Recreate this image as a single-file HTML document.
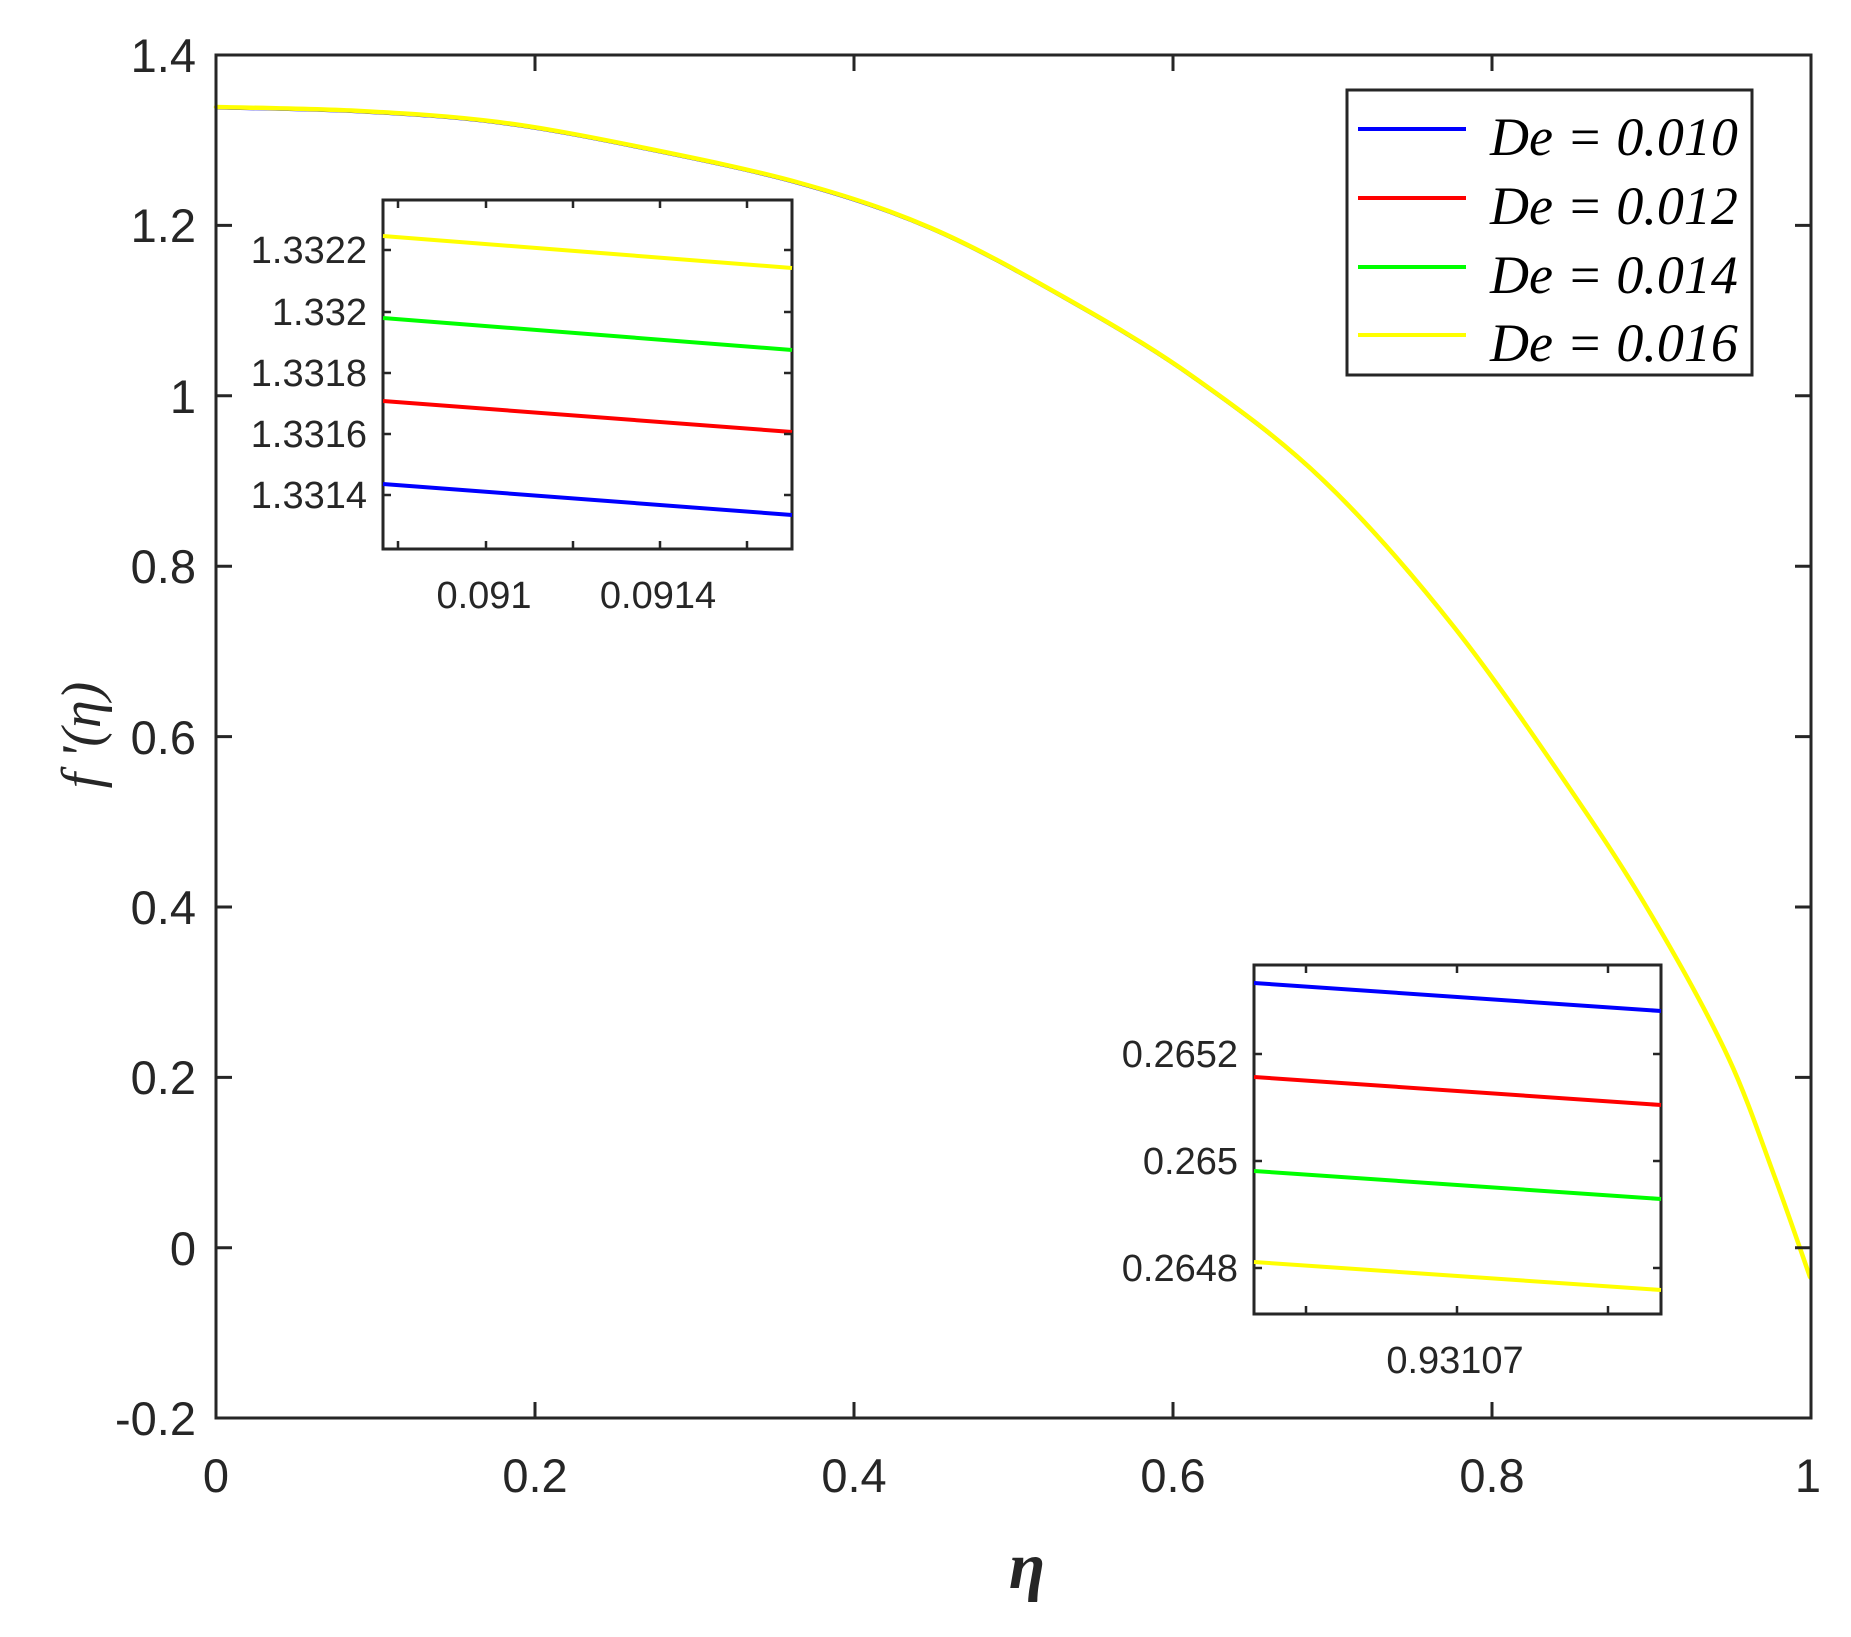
<!DOCTYPE html>
<html><head><meta charset="utf-8"><style>
html,body{margin:0;padding:0;background:#fff;}
svg{display:block;}
</style></head><body>
<svg width="1851" height="1637" viewBox="0 0 1851 1637" xmlns="http://www.w3.org/2000/svg">
<rect width="1851" height="1637" fill="#fff"/>
<defs>
<path id="crv" d="M216,107 C240,107.7 313,108.5 360,111 C407,113.5 451.3,116 498,122 C544.7,128 589.7,136.8 640,147 C690.3,157.2 751.5,169.5 800,183 C848.5,196.5 887.3,209.2 931,228 C974.7,246.8 1018.5,271.3 1062,296 C1105.5,320.7 1148.5,345.3 1192,376 C1235.5,406.7 1279.3,438.2 1323,480 C1366.7,521.8 1410.3,571.8 1454,627 C1497.7,682.2 1550.2,759.7 1585,811 C1619.8,862.3 1639,893.7 1663,935 C1687,976.3 1710.5,1019 1729,1059 C1747.5,1099 1760.5,1138.7 1774,1175 C1787.5,1211.3 1804,1260 1810,1277"/>
</defs>
<g fill="none" stroke-linejoin="round" stroke-linecap="round">
<use href="#crv" stroke="#0000ff" stroke-width="2" transform="translate(0,1.5)"/>
<use href="#crv" stroke="#ff0000" stroke-width="2" transform="translate(0,1)"/>
<use href="#crv" stroke="#00ff00" stroke-width="2" transform="translate(0,0.5)"/>
<use href="#crv" stroke="#ffff00" stroke-width="4.5"/>
</g>
<rect x="216" y="55" width="1595" height="1363" fill="none" stroke="#262626" stroke-width="3"/>
<g stroke="#262626" stroke-width="3">
<path d="M216 225.4h16M216 395.8h16M216 566.2h16M216 736.6h16M216 907h16M216 1077.4h16M216 1247.8h16
M1811 225.4h-16M1811 395.8h-16M1811 566.2h-16M1811 736.6h-16M1811 907h-16M1811 1077.4h-16M1811 1247.8h-16
M535 1418v-16M854 1418v-16M1173 1418v-16M1492 1418v-16
M535 55v16M854 55v16M1173 55v16M1492 55v16"/>
</g>
<g font-family="Liberation Sans, sans-serif" font-size="47" fill="#262626">
<g text-anchor="end">
<text x="196" y="72">1.4</text>
<text x="196" y="242">1.2</text>
<text x="196" y="413">1</text>
<text x="196" y="583">0.8</text>
<text x="196" y="754">0.6</text>
<text x="196" y="924">0.4</text>
<text x="196" y="1094">0.2</text>
<text x="196" y="1265">0</text>
<text x="196" y="1435">-0.2</text>
</g>
<g text-anchor="middle">
<text x="216" y="1492">0</text>
<text x="535" y="1492">0.2</text>
<text x="854" y="1492">0.4</text>
<text x="1173" y="1492">0.6</text>
<text x="1492" y="1492">0.8</text>
<text x="1808" y="1492">1</text>
</g>
</g>
<text transform="translate(100,735) rotate(-90)" text-anchor="middle" font-family="Liberation Serif, serif" font-style="italic" font-size="56" fill="#262626">f '(η)</text>
<text x="1027" y="1588" text-anchor="middle" font-family="Liberation Serif, serif" font-style="italic" font-weight="bold" font-size="66" fill="#262626">η</text>

<rect x="1347" y="90" width="405" height="285" fill="#fff" stroke="#262626" stroke-width="3"/>
<g stroke-width="4">
<line x1="1358" y1="129" x2="1466" y2="129" stroke="#0000ff"/>
<line x1="1358" y1="198" x2="1466" y2="198" stroke="#ff0000"/>
<line x1="1358" y1="267" x2="1466" y2="267" stroke="#00ff00"/>
<line x1="1358" y1="335" x2="1466" y2="335" stroke="#ffff00"/>
</g>
<g font-family="Liberation Serif, serif" font-style="italic" font-size="54" fill="#000">
<text x="1490" y="155">De = 0.010</text>
<text x="1490" y="224">De = 0.012</text>
<text x="1490" y="293">De = 0.014</text>
<text x="1490" y="361">De = 0.016</text>
</g>

<rect x="383" y="200" width="409" height="349" fill="#fff" stroke="#262626" stroke-width="3"/>
<g stroke-width="4">
<line x1="383" y1="236" x2="792" y2="268" stroke="#ffff00"/>
<line x1="383" y1="318" x2="792" y2="350" stroke="#00ff00"/>
<line x1="383" y1="401" x2="792" y2="432" stroke="#ff0000"/>
<line x1="383" y1="484" x2="792" y2="515" stroke="#0000ff"/>
</g>
<g stroke="#262626" stroke-width="2.5">
<path d="M383 250h8M383 312h8M383 373h8M383 434h8M383 495h8
M792 250h-8M792 312h-8M792 373h-8M792 434h-8M792 495h-8
M398 549v-8M486 549v-8M573 549v-8M660 549v-8M747 549v-8
M398 200v8M486 200v8M573 200v8M660 200v8M747 200v8"/>
</g>
<g font-family="Liberation Sans, sans-serif" font-size="38" fill="#262626">
<g text-anchor="end">
<text x="367" y="263">1.3322</text>
<text x="367" y="325">1.332</text>
<text x="367" y="386">1.3318</text>
<text x="367" y="447">1.3316</text>
<text x="367" y="508">1.3314</text>
</g>
<g text-anchor="middle">
<text x="484" y="608">0.091</text>
<text x="658" y="608">0.0914</text>
</g>
</g>

<rect x="1254" y="965" width="407" height="349" fill="#fff" stroke="#262626" stroke-width="3"/>
<g stroke-width="4">
<line x1="1254" y1="983" x2="1661" y2="1011" stroke="#0000ff"/>
<line x1="1254" y1="1077" x2="1661" y2="1105" stroke="#ff0000"/>
<line x1="1254" y1="1171" x2="1661" y2="1199" stroke="#00ff00"/>
<line x1="1254" y1="1262" x2="1661" y2="1290" stroke="#ffff00"/>
</g>
<g stroke="#262626" stroke-width="2.5">
<path d="M1254 1054h8M1254 1161h8M1254 1268h8
M1661 1054h-8M1661 1161h-8M1661 1268h-8
M1306 1314v-8M1457 1314v-8M1608 1314v-8
M1306 965v8M1457 965v8M1608 965v8"/>
</g>
<g font-family="Liberation Sans, sans-serif" font-size="38" fill="#262626">
<g text-anchor="end">
<text x="1238" y="1067">0.2652</text>
<text x="1238" y="1174">0.265</text>
<text x="1238" y="1281">0.2648</text>
</g>
<text x="1455" y="1373" text-anchor="middle">0.93107</text>
</g>
</svg>
</body></html>
